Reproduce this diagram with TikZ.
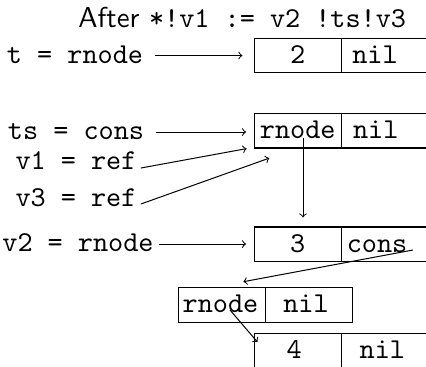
\documentclass[tikz,border=0pt]{standalone}
\usetikzlibrary{calc}
\font\labtt=cmtt10 at 14.4pt
\font\labsf=cmss10 at 14.4pt
\begin{document}
\begin{tikzpicture}[x=0.5pt,y=-0.5pt,
  lab/.style={font=\labtt, inner sep=0pt, text height=8.9pt, text depth=1.1pt},
  cell/.style={draw, line width=0.6pt, minimum width=43.5pt, minimum height=17.3pt, inner sep=0pt,
    font=\labtt, text height=8.9pt, text depth=1.1pt},
  arr/.style={->, line width=0.5pt}]
\useasboundingbox (0,0) rectangle (426,366);
% title
\node[anchor=base west, inner sep=0pt] (title) at (78,27)
  {\labsf After \labtt *!v1 := v2 !ts!v3};
% labels
\node[lab] (lt)  at (75,55.5) {t = rnode};
\node[lab] (lts) at (76,132)  {ts = cons};
\node[lab] (lv1) at (76,162)  {v1 = ref};
\node[lab] (lv3) at (76,199)  {v3 = ref};
\node[lab] (lv2) at (78,244)  {v2 = rnode};
% boxes
\node[cell] (b1a) at (297.7,55.5)  {2};
\node[cell] (b1b) at (384.7,55.5)  {nil\kern9.7pt};
\node[cell] (b2a) at (297.7,130.7) {rnode};
\node[cell] (b2b) at (384.7,130.7) {nil\kern9pt};
\node[cell] (b3a) at (297.7,244.3) {3};
\node[cell] (b3b) at (384.7,244.3) {cons\kern7.7pt};
\node[cell] (b4a) at (222,305)     {rnode\kern1.5pt};
\node[cell] (b4b) at (309,305)     {nil\kern3pt};
\node[cell] (b5a) at (298.3,350.6) {4\kern4pt};
\node[cell] (b5b) at (385.3,350.6) {nil\kern3pt};
% connectors
\draw[arr, shorten <=6pt, shorten >=5.6pt] (lt.east) -- (lt.east -| b1a.west);
\draw[arr, shorten <=6pt, shorten >=3.8pt] (lts.east) -- (lts.east -| b2a.west);
\draw[arr] ([shift={(4,6)}]lv1.east) -- ([shift={(-7,0)}]b2a.south west);
\draw[arr] ([shift={(4,5)}]lv3.east) -- ([shift={(15.7,9.5)}]b2a.south west);
\draw[arr] ([shift={(5.3,7.3)}]b2a.center) -- ([shift={(5.3,-9)}]b3a.north);
\draw[arr, shorten <=2.5pt, shorten >=3.8pt] (lv2.east) -- (lv2.east -| b3a.west);
\draw[arr] ([shift={(28.3,5.7)}]b3b.center) -- ([shift={(21.3,-5.4)}]b4a.north);
\draw[arr] ([shift={(8,5)}]b4a.center) -- ([shift={(3.3,9.4)}]b5a.north west);
\end{tikzpicture}
\end{document}
